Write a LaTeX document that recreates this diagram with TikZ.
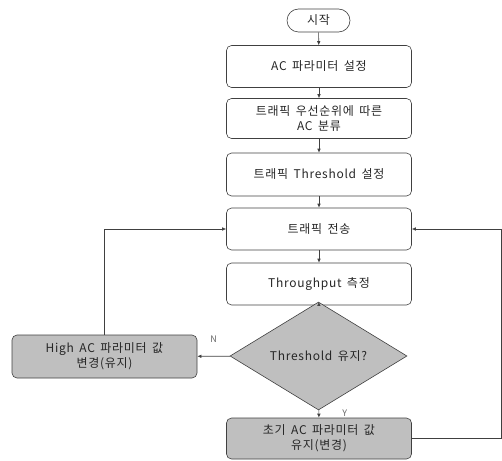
\documentclass[tikz,border=0pt]{standalone}
\usepackage{fontspec}
\setmainfont{Noto Sans CJK KR}[LetterSpace=6,WordSpace=1.6]
\usetikzlibrary{shapes.geometric,arrows.meta}

\begin{document}
\begin{tikzpicture}[x=1pt, y=-1pt, font=\fontsize{12}{15}\selectfont,
    line width=0.6pt, draw=black!75, text=black!85,
    box/.style={draw=black!75, rounded corners=5pt, minimum width=185pt, minimum height=42pt, align=center, inner sep=2pt},
    grey/.style={fill=black!25},
    lbl/.style={font=\fontsize{9}{10}\selectfont, text=black!60},
    >={Latex[length=4pt,width=3.5pt]}]
    \useasboundingbox (0,0) rectangle (502,460);

    \node[draw=black!75, rounded corners=11.5pt, minimum width=63pt, minimum height=23pt, inner sep=0pt] (start) at (318.5,20.5) {시작};
    \node[box] (set) at (319,66.5) {AC 파라미터 설정};
    \node[box, minimum height=40pt] (cls) at (319,118.5) {트래픽 우선순위에 따른\\AC 분류};
    \node[box, minimum height=43pt] (thr) at (319,174.5) {트래픽 Threshold 설정};
    \node[box] (tx) at (319,229) {트래픽 전송};
    \node[box] (meas) at (319,284) {Throughput 측정};
    \node[draw=black!75, grey, diamond, minimum width=177pt, minimum height=66pt, inner sep=0pt] (chk) at (318.5,356) {Threshold 유지?};
    \node[box, grey, minimum height=41pt] (keep) at (319,438.5) {초기 AC 파라미터 값\\유지(변경)};
    \node[box, grey, minimum height=43pt] (high) at (104.5,356.5) {High AC 파라미터 값\\변경(유지)};
    \coordinate (rt) at (501,0);

    \draw[->] (start) -- (set);
    \draw[->] (set) -- (cls);
    \draw[->] (cls) -- (thr);
    \draw[->] (thr) -- (tx);
    \draw[->] (tx) -- (meas);
    \draw[->] (meas) -- (chk);
    \draw[->] (chk) -- node[pos=0.45, right=20pt, lbl] {Y} (keep);
    \draw[->] (chk) -- node[pos=0.5, above=10pt, lbl] {N} (high);
    \draw[->] (high.north) |- (tx.west);
    \draw[->] (keep.east) -- (keep.east -| rt) |- (tx.east);
\end{tikzpicture}
\end{document}
